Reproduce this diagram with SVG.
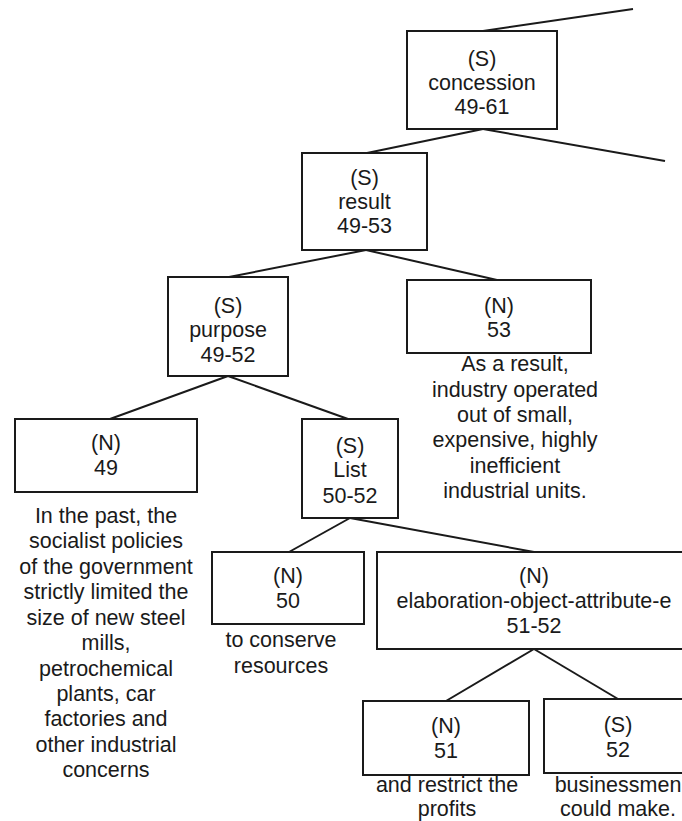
<svg xmlns="http://www.w3.org/2000/svg" width="682" height="821" viewBox="0 0 682 821">
<style>
rect.box{fill:#fff;stroke:#1a1a1a;stroke-width:2}
line{stroke:#1a1a1a;stroke-width:2}
text{font-family:"Liberation Sans",Arial,sans-serif;font-size:21.5px;fill:#1a1a1a;text-anchor:middle}
</style>
<rect width="682" height="821" fill="#fff"/>
<g id="connectors">
<line x1="483" y1="31" x2="633" y2="9"/>
<line x1="483" y1="129" x2="665" y2="161"/>
<line x1="483" y1="129" x2="367" y2="153"/>
<line x1="366" y1="250" x2="229" y2="277"/>
<line x1="366" y1="250" x2="497" y2="280"/>
<line x1="228" y1="376" x2="110" y2="419"/>
<line x1="228" y1="376" x2="348" y2="419"/>
<line x1="350" y1="518" x2="289" y2="552"/>
<line x1="350" y1="518" x2="534" y2="552"/>
<line x1="534" y1="649" x2="446" y2="701"/>
<line x1="534" y1="649" x2="618" y2="699"/>
</g>
<g id="n49-61">
<rect class="box" x="407" y="31" width="150" height="98"/>
<text x="482" y="66">(S)</text>
<text x="482" y="90">concession</text>
<text x="482" y="114">49-61</text>
</g>
<g id="n49-53">
<rect class="box" x="302" y="153" width="125" height="97"/>
<text x="364.5" y="185">(S)</text>
<text x="364.5" y="209">result</text>
<text x="364.5" y="233">49-53</text>
</g>
<g id="n49-52">
<rect class="box" x="168" y="277" width="120" height="99"/>
<text x="228" y="313">(S)</text>
<text x="228" y="337">purpose</text>
<text x="228" y="361.5">49-52</text>
</g>
<g id="n53">
<rect class="box" x="407" y="280" width="184" height="73"/>
<text x="499" y="312.5">(N)</text>
<text x="499" y="337">53</text>
<text x="515" y="371">As a result,</text>
<text x="515" y="396.5">industry operated</text>
<text x="515" y="422">out of small,</text>
<text x="515" y="447">expensive, highly</text>
<text x="515" y="472.5">inefficient</text>
<text x="515" y="498">industrial units.</text>
</g>
<g id="n49">
<rect class="box" x="15" y="419" width="182" height="73"/>
<text x="106" y="450">(N)</text>
<text x="106" y="475">49</text>
<text x="106" y="522.5">In the past, the</text>
<text x="106" y="548">socialist policies</text>
<text x="106" y="573.5">of the government</text>
<text x="106" y="599">strictly limited the</text>
<text x="106" y="624.5">size of new steel</text>
<text x="106" y="650">mills,</text>
<text x="106" y="675.5">petrochemical</text>
<text x="106" y="701">plants, car</text>
<text x="106" y="726">factories and</text>
<text x="106" y="751.5">other industrial</text>
<text x="106" y="777">concerns</text>
</g>
<g id="n50-52">
<rect class="box" x="302" y="419" width="96" height="99"/>
<text x="350" y="452.5">(S)</text>
<text x="350" y="477">List</text>
<text x="350" y="502.5">50-52</text>
</g>
<g id="n50">
<rect class="box" x="212" y="552" width="152" height="72"/>
<text x="288" y="583">(N)</text>
<text x="288" y="608">50</text>
<text x="281" y="647">to conserve</text>
<text x="281" y="673">resources</text>
</g>
<g id="n51-52">
<rect class="box" x="377" y="552" width="314" height="97"/>
<text x="534" y="583">(N)</text>
<text x="534" y="608">elaboration-object-attribute-e</text>
<text x="534" y="633">51-52</text>
</g>
<g id="n51">
<rect class="box" x="363" y="701" width="166" height="74"/>
<text x="446" y="733">(N)</text>
<text x="446" y="758">51</text>
<text x="447" y="792">and restrict the</text>
<text x="447" y="815.5">profits</text>
</g>
<g id="n52">
<rect class="box" x="544" y="699" width="148" height="74"/>
<text x="618" y="731.5">(S)</text>
<text x="618" y="756.5">52</text>
<text x="618" y="792">businessmen</text>
<text x="618" y="815.5">could make.</text>
</g>
</svg>
